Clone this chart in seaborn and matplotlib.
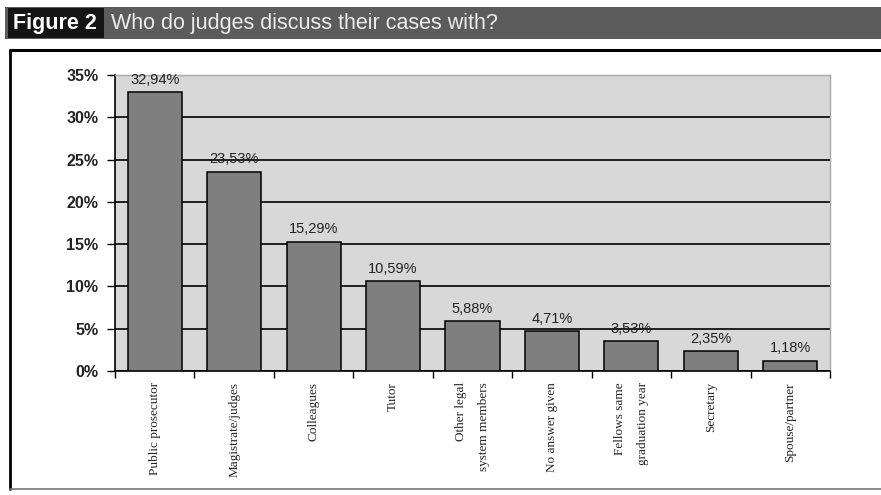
import numpy as np
import pandas as pd
import matplotlib
matplotlib.use("Agg")
import matplotlib.pyplot as plt
from matplotlib.patches import Rectangle
from matplotlib.lines import Line2D
import seaborn as sns

categories = ["Public prosecutor", "Magistrate/judges", "Colleagues", "Tutor",
              "Other legal\nsystem members", "No answer given",
              "Fellows same\ngraduation year", "Secretary", "Spouse/partner"]
values = [32.94, 23.53, 15.29, 10.59, 5.88, 4.71, 3.53, 2.35, 1.18]
yticks = [0, 5, 10, 15, 20, 25, 30, 35]
title_tag = "Figure 2"
title_text = "Who do judges discuss their cases with?"

sns.set_style("white")
plt.rcParams["font.family"] = ["Liberation Sans", "DejaVu Sans"]

W, H = 881, 495
fig = plt.figure(figsize=(W / 100, H / 100), dpi=100)
fig.patch.set_facecolor("white")

def fx(px):
    return px / W

def fy(py):
    return 1 - py / H

# Title bar
fig.patches.append(Rectangle((fx(5), fy(39)), fx(881) - fx(5), fy(7) - fy(39),
                             transform=fig.transFigure, facecolor="#5c5c5c",
                             edgecolor="none", zorder=0))
fig.patches.append(Rectangle((fx(8), fy(38)), fx(104) - fx(8), fy(8) - fy(38),
                             transform=fig.transFigure, facecolor="#141414",
                             edgecolor="none", zorder=1))
fig.text(fx(13), fy(23), title_tag, color="white", fontsize=15.5,
         fontweight="bold", va="center", ha="left")
fig.text(fx(111), fy(23), title_text, color="#ececec", fontsize=15.5,
         va="center", ha="left")

# Outer frame
fig.lines.append(Line2D([fx(10), fx(881)], [fy(50), fy(50)], transform=fig.transFigure,
                        color="black", linewidth=2.2))
fig.lines.append(Line2D([fx(10), fx(10)], [fy(50), fy(489)], transform=fig.transFigure,
                        color="black", linewidth=2.0))
fig.lines.append(Line2D([fx(10), fx(881)], [fy(489), fy(489)], transform=fig.transFigure,
                        color="#777777", linewidth=1.2))

ax = fig.add_axes([fx(115), fy(371), fx(830) - fx(115), fy(75) - fy(371)])
ax.set_facecolor("#d8d8d8")

df = pd.DataFrame({"category": categories, "value": values})
sns.barplot(data=df, x="category", y="value", color="#7f7f7f", saturation=1,
            edgecolor="black", linewidth=1.1, width=0.68, ax=ax, zorder=3)

ax.set_ylim(0, 35)
ax.set_xlim(-0.5, len(categories) - 0.5)
ax.set_yticks(yticks)
ax.set_yticklabels([f"{t}%" for t in yticks], fontsize=11.5, fontweight="bold",
                   color="#222222")
ax.yaxis.grid(True, color="black", linewidth=1.2, zorder=1)
ax.set_axisbelow(True)
ax.set_xlabel("")
ax.set_ylabel("")

ax.set_xticks(range(len(categories)))
ax.set_xticklabels(categories, rotation=90, fontsize=9.5,
                   family=["Liberation Serif", "DejaVu Serif"],
                   va="top", ha="center", multialignment="right",
                   linespacing=2.2)
ax.set_xticks(np.arange(-0.5, len(categories), 1), minor=True)
ax.tick_params(axis="x", which="major", length=0, pad=8)
ax.tick_params(axis="x", which="minor", length=5, width=1, color="black",
               direction="out", bottom=True)
ax.tick_params(axis="y", length=6, width=1, color="black", direction="out",
               left=True, pad=6)

for sp in ["left", "bottom"]:
    ax.spines[sp].set_color("black")
    ax.spines[sp].set_linewidth(1.2)
for sp in ["top", "right"]:
    ax.spines[sp].set_color("#a8a8a8")
    ax.spines[sp].set_linewidth(1.0)

for i, v in enumerate(values):
    ax.annotate(f"{v:.2f}%".replace(".", ","), (i, v), xytext=(0, 4),
                textcoords="offset points", ha="center", va="bottom",
                fontsize=10.5, color="#222222", zorder=5)

fig.savefig("out.png", dpi=100)
